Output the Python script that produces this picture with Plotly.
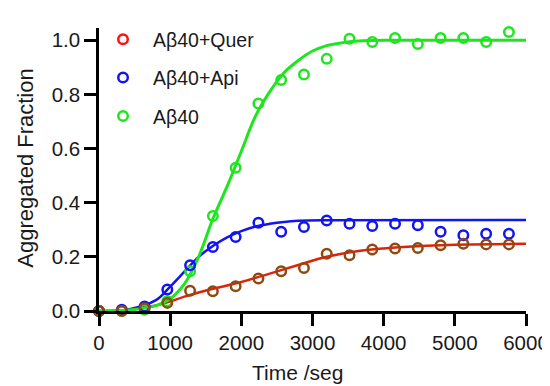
import plotly.graph_objects as go

# Measured data (time in seconds)
time_pts = [0, 320, 640, 960, 1280, 1600, 1920, 2240, 2560, 2880, 3200,
            3520, 3840, 4160, 4480, 4800, 5120, 5440, 5760]
quer_vals = [0.0, 0.0, 0.01, 0.03, 0.075, 0.073, 0.091, 0.12, 0.147, 0.159, 0.211,
             0.206, 0.227, 0.231, 0.233, 0.243, 0.248, 0.246, 0.246]
api_vals = [0.0, 0.005, 0.017, 0.079, 0.169, 0.236, 0.273, 0.326, 0.293, 0.31, 0.334,
            0.322, 0.314, 0.322, 0.317, 0.293, 0.28, 0.285, 0.285]
ab40_vals = [0.0, 0.0, 0.005, 0.036, 0.147, 0.351, 0.529, 0.766, 0.853, 0.873, 0.931,
             1.005, 0.993, 1.008, 0.986, 1.008, 1.008, 0.993, 1.03]

# Fitted curves
fit_t_ab40 = [0, 400, 800, 1000, 1200, 1400, 1600, 1800, 2000, 2200, 2400, 2600,
              2800, 3000, 3200, 3400, 3700, 4200, 6000]
fit_ab40 = [0.0, 0.003, 0.02, 0.045, 0.10, 0.20, 0.34, 0.46, 0.59, 0.72, 0.81, 0.88,
            0.925, 0.96, 0.98, 0.99, 0.998, 1.0, 1.0]
fit_t_api = [0, 400, 800, 1000, 1200, 1400, 1600, 1800, 2000, 2200, 2400, 2600,
             2800, 3200, 6000]
fit_api = [0.0, 0.005, 0.04, 0.09, 0.145, 0.20, 0.24, 0.272, 0.295, 0.312, 0.322,
           0.329, 0.333, 0.335, 0.336]
fit_t_quer = [0, 400, 800, 1000, 1200, 1600, 2000, 2400, 2800, 3200, 3600, 4000,
              4400, 4800, 5200, 6000]
fit_quer = [0.0, 0.003, 0.02, 0.035, 0.053, 0.082, 0.107, 0.138, 0.17, 0.2, 0.22,
            0.231, 0.238, 0.243, 0.246, 0.248]

series_names = ["A\u03b240+Quer", "A\u03b240+Api", "A\u03b240"]
x_ticks = [0, 1000, 2000, 3000, 4000, 5000, 6000]
y_ticks = [0.0, 0.2, 0.4, 0.6, 0.8, 1.0]

RED_LINE = "#e0220a"
RED_MARK = "#8e4a10"
RED_LEG = "#ff1010"
BLUE = "#1414f0"
GREEN = "#1ee61e"
TXT = "#1a1a1a"

FONT = "Liberation Sans, Arial, sans-serif"

fig = go.Figure()

# fitted lines
fig.add_trace(go.Scatter(x=fit_t_quer, y=fit_quer, mode="lines", line=dict(color=RED_LINE, width=2.5, shape="spline"),
                         showlegend=False, cliponaxis=False))
fig.add_trace(go.Scatter(x=fit_t_api, y=fit_api, mode="lines", line=dict(color=BLUE, width=2.5, shape="spline"),
                         showlegend=False, cliponaxis=False))
fig.add_trace(go.Scatter(x=fit_t_ab40, y=fit_ab40, mode="lines", line=dict(color=GREEN, width=3, shape="spline"),
                         showlegend=False, cliponaxis=False))

# data markers
mk = dict(symbol="circle-open", size=9.5)
fig.add_trace(go.Scatter(x=time_pts, y=ab40_vals, mode="markers",
                         marker=dict(**mk, color=GREEN, line=dict(width=2.5, color=GREEN)),
                         showlegend=False, cliponaxis=False))
fig.add_trace(go.Scatter(x=time_pts, y=api_vals, mode="markers",
                         marker=dict(**mk, color=BLUE, line=dict(width=2.5, color=BLUE)),
                         showlegend=False, cliponaxis=False))
fig.add_trace(go.Scatter(x=time_pts, y=quer_vals, mode="markers",
                         marker=dict(**mk, color=RED_MARK, line=dict(width=2.5, color=RED_MARK)),
                         showlegend=False, cliponaxis=False))

# legend entries
for name, col in zip(series_names, [RED_LEG, BLUE, GREEN]):
    fig.add_trace(go.Scatter(x=[None], y=[None], mode="markers", name=name, legendgroup=name,
                             marker=dict(**mk, color=col, line=dict(width=2.5, color=col))))

axis_common = dict(showline=True, linecolor="black", linewidth=2.5, ticks="outside",
                   ticklen=12, tickwidth=2.5, tickcolor="black", showgrid=False,
                   zeroline=False, tickfont=dict(family=FONT, size=20.5, color=TXT))

fig.update_layout(
    width=550, height=386,
    margin=dict(l=91, r=32, t=20, b=83, autoexpand=False),
    paper_bgcolor="white", plot_bgcolor="white",
    xaxis=dict(range=[0, 6000], tickvals=x_ticks, automargin=False, **axis_common),
    yaxis=dict(range=[0, 1.045], tickvals=y_ticks, tickformat=".1f", automargin=False, **axis_common),
    legend=dict(x=-0.014, y=1.028, xanchor="left", yanchor="top", traceorder="grouped",
                tracegroupgap=10, font=dict(family=FONT, size=19.5, color=TXT),
                bgcolor="rgba(0,0,0,0)", itemwidth=50),
    showlegend=True,
    annotations=[
        dict(text="Time /seg", xref="paper", yref="paper", x=0.464, y=-0.219,
             xanchor="center", yanchor="middle", showarrow=False,
             font=dict(family=FONT, size=21, color=TXT)),
        dict(text="Aggregated Fraction", xref="paper", yref="paper", x=-0.172, y=0.505,
             xanchor="center", yanchor="middle", textangle=-90, showarrow=False,
             font=dict(family=FONT, size=22, color=TXT)),
    ],
)

fig.write_html("out.html")
